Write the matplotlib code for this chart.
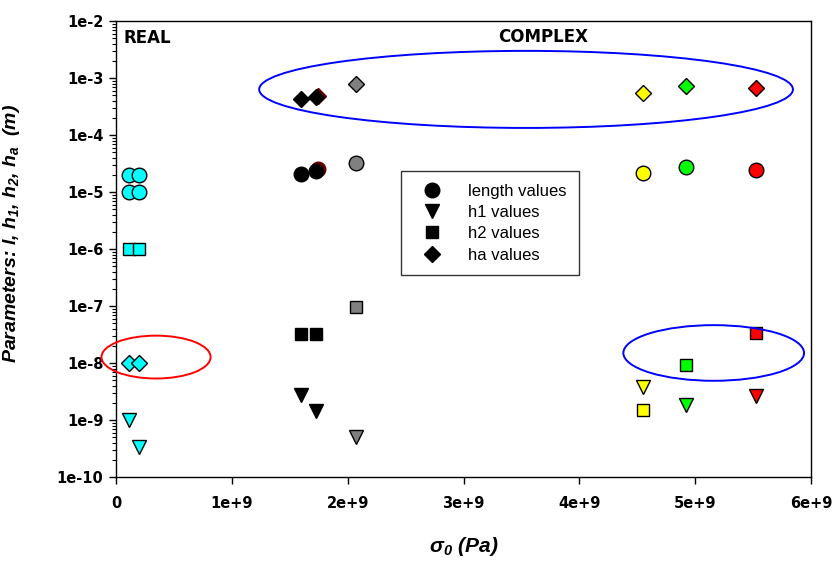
import matplotlib
matplotlib.use("Agg")
import matplotlib.pyplot as plt
from matplotlib.patches import Ellipse
from matplotlib.lines import Line2D
from matplotlib.ticker import FixedLocator, LogLocator, NullFormatter

plt.rcParams['font.family'] = ['Liberation Sans', 'DejaVu Sans']
plt.rcParams['mathtext.default'] = 'regular'

# REAL group (cyan)
real_sigma = [1.1e8, 2.0e8]
real_length_1 = [2.0e-5, 2.0e-5]
real_length_2 = [1.0e-5, 1.0e-5]
real_h1 = [1.0e-9, 3.4e-10]
real_h2 = [1.0e-6, 1.0e-6]
real_ha = [1.0e-8, 1.0e-8]

# COMPLEX group, black points (plus a dark red one partly hidden behind)
black_sigma = [1.595e9, 1.725e9]
black_length = [2.04e-5, 2.37e-5]
black_h1 = [2.8e-9, 1.46e-9]
black_h2 = [3.2e-8, 3.2e-8]
black_ha = [4.2e-4, 4.7e-4]
hidden_sigma = [1.74e9]
hidden_length = [2.55e-5]
hidden_ha = [4.9e-4]

# COMPLEX group, gray point
gray_sigma = [2.072e9]
gray_length = [3.2e-5]
gray_h1 = [5.1e-10]
gray_h2 = [9.7e-8]
gray_ha = [7.85e-4]

# COMPLEX group, coloured points
col_sigma = [4.547e9, 4.921e9, 5.525e9]
col_colors = ['#ffff00', '#00ff00', '#ff0000']
col_length = [2.13e-5, 2.78e-5, 2.43e-5]
col_h1 = [3.8e-9, 1.83e-9, 2.67e-9]
col_h2 = [1.5e-9, 9.2e-9, 3.3e-8]
col_ha = [5.4e-4, 7.2e-4, 6.6e-4]

x_ticks = [0, 1e9, 2e9, 3e9, 4e9, 5e9, 6e9]
x_tick_labels = ['0', '1e+9', '2e+9', '3e+9', '4e+9', '5e+9', '6e+9']
y_ticks = [1e-10, 1e-9, 1e-8, 1e-7, 1e-6, 1e-5, 1e-4, 1e-3, 1e-2]
y_tick_labels = ['1e-10', '1e-9', '1e-8', '1e-7', '1e-6', '1e-5', '1e-4', '1e-3', '1e-2']

sizes = {'o': 10.5, 'v': 9.5, 's': 8.5, 'D': 8.2}

fig = plt.figure(figsize=(8.34, 5.62), dpi=100)
ax = fig.add_axes([116 / 834, 1 - 477 / 562, 695 / 834, 456 / 562])
ax.set_yscale('log')


def pts(x, y, marker, color):
    ax.plot(x, y, linestyle='none', marker=marker, markersize=sizes[marker],
            markerfacecolor=color, markeredgecolor='black', markeredgewidth=1, zorder=3)


cyan = '#00ffff'
pts(real_sigma, real_length_1, 'o', cyan)
pts(real_sigma, real_length_2, 'o', cyan)
pts(real_sigma, real_h1, 'v', cyan)
pts(real_sigma, real_h2, 's', cyan)
pts(real_sigma, real_ha, 'D', cyan)

ax.plot(hidden_sigma, hidden_length, linestyle='none', marker='o', markersize=sizes['o'],
        markerfacecolor='#8b0000', markeredgecolor='#5a0000', zorder=2)
ax.plot(hidden_sigma, hidden_ha, linestyle='none', marker='D', markersize=sizes['D'],
        markerfacecolor='#8b0000', markeredgecolor='#5a0000', zorder=2)
pts(black_sigma, black_length, 'o', 'black')
pts(black_sigma, black_h1, 'v', 'black')
pts(black_sigma, black_h2, 's', 'black')
pts(black_sigma, black_ha, 'D', 'black')

gray = '#808080'
pts(gray_sigma, gray_length, 'o', gray)
pts(gray_sigma, gray_h1, 'v', gray)
pts(gray_sigma, gray_h2, 's', gray)
pts(gray_sigma, gray_ha, 'D', gray)

for i, c in enumerate(col_colors):
    pts([col_sigma[i]], [col_length[i]], 'o', c)
    pts([col_sigma[i]], [col_h1[i]], 'v', c)
    pts([col_sigma[i]], [col_h2[i]], 's', c)
    pts([col_sigma[i]], [col_ha[i]], 'D', c)

ax.set_xlim(0, 6e9)
ax.set_ylim(1e-10, 1e-2)
ax.xaxis.set_major_locator(FixedLocator(x_ticks))
ax.set_xticklabels(x_tick_labels)
ax.yaxis.set_major_locator(FixedLocator(y_ticks))
ax.set_yticklabels(y_tick_labels)
ax.yaxis.set_minor_locator(LogLocator(base=10, subs=range(2, 10), numticks=20))
ax.yaxis.set_minor_formatter(NullFormatter())
ax.tick_params(axis='x', which='major', direction='out', length=5, width=1,
               labelsize=10.5, pad=9, top=False)
ax.tick_params(axis='y', which='major', direction='out', length=5, width=1,
               labelsize=10.5, pad=4, right=False)
ax.tick_params(axis='y', which='minor', direction='out', length=3, width=0.8, right=False)
for lab in ax.get_xticklabels() + ax.get_yticklabels():
    lab.set_fontweight('bold')
    lab.set_family('DejaVu Sans')
for s in ax.spines.values():
    s.set_linewidth(1)

# highlight ellipses (axes fraction)
ax.add_patch(Ellipse((0.590, 0.850), 0.768, 0.169, transform=ax.transAxes,
                     fill=False, edgecolor='#0000ff', linewidth=1.4, clip_on=False, zorder=4))
ax.add_patch(Ellipse((0.860, 0.272), 0.260, 0.122, transform=ax.transAxes,
                     fill=False, edgecolor='#0000ff', linewidth=1.4, clip_on=False, zorder=4))
ax.add_patch(Ellipse((0.0576, 0.263), 0.157, 0.094, transform=ax.transAxes,
                     fill=False, edgecolor='#ff0000', linewidth=1.4, clip_on=False, zorder=4))

ax.text(0.0115, 0.963, 'REAL', transform=ax.transAxes, fontsize=12,
        fontweight='bold', family='DejaVu Sans', ha='left', va='center')
ax.text(0.55, 0.965, 'COMPLEX', transform=ax.transAxes, fontsize=12,
        fontweight='bold', family='DejaVu Sans', ha='left', va='center')

handles = [
    Line2D([], [], linestyle='none', marker='o', markersize=10.5, color='black', label='length values'),
    Line2D([], [], linestyle='none', marker='v', markersize=9.5, color='black', label='h1 values'),
    Line2D([], [], linestyle='none', marker='s', markersize=8.5, color='black', label='h2 values'),
    Line2D([], [], linestyle='none', marker='D', markersize=8.2, color='black', label='ha values'),
]
leg = ax.legend(handles=handles, loc='upper left', bbox_to_anchor=(0.410, 0.671),
                fontsize=12, frameon=True, fancybox=False, edgecolor='black',
                borderpad=0.75, labelspacing=0.38, handletextpad=1.1, handlelength=2.2,
                borderaxespad=0)
leg.get_frame().set_linewidth(1)

ax.set_ylabel('Parameters: l, h$_1$, h$_2$, h$_a$  (m)', fontsize=14,
              fontweight='bold', fontstyle='italic')
ax.yaxis.set_label_coords(-0.135, 0.535)
ax.set_xlabel('σ$_0$ (Pa)', fontsize=15, fontweight='bold', fontstyle='italic')
ax.xaxis.set_label_coords(0.5, -0.127)

fig.savefig('out.png', dpi=100)
